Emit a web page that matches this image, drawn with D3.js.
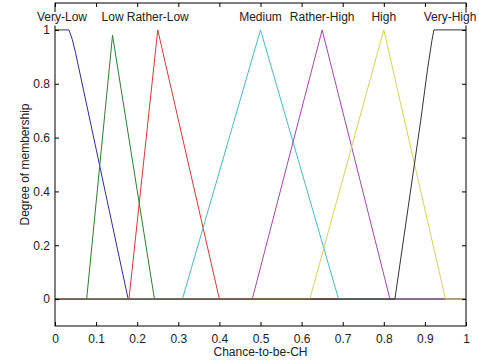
<!DOCTYPE html>
<html>
<head>
<meta charset="utf-8">
<script src="https://cdn.jsdelivr.net/npm/d3@7"></script>
<style>
  html, body { margin: 0; padding: 0; background: #fff; }
  svg { display: block; font-family: "Liberation Sans", Arial, sans-serif; }
</style>
</head>
<body>
<svg id="chart" width="479" height="360"></svg>
<script>
// Membership function names, in drawing order
const mfNames = ["Very-Low", "Low", "Rather-Low", "Medium", "Rather-High", "High", "Very-High"];

// Breakpoints [x, degree] of each membership function over the universe [0, 1]
const veryLow    = [[0, 1], [0.034, 1], [0.042, 0.965], [0.05, 0.915], [0.178, 0], [1, 0]];
const low        = [[0, 0], [0.077, 0], [0.14, 0.98], [0.242, 0], [1, 0]];
const ratherLow  = [[0, 0], [0.18, 0], [0.25, 1], [0.40, 0], [1, 0]];
const medium     = [[0, 0], [0.31, 0], [0.5, 1], [0.69, 0], [1, 0]];
const ratherHigh = [[0, 0], [0.48, 0], [0.65, 1], [0.815, 0], [1, 0]];
const high       = [[0, 0], [0.62, 0], [0.8, 1], [0.95, 0], [1, 0]];
const veryHigh   = [[0, 0], [0.827, 0], [0.89, 0.665], [0.906, 0.85], [0.917, 0.96], [0.922, 1], [1, 1]];

// Where each name sits along the x axis (centre of its maximum)
const labelX = [0.017, 0.14, 0.25, 0.5, 0.65, 0.8, 0.961];

// Tick values
const xTicks = [0, 0.1, 0.2, 0.3, 0.4, 0.5, 0.6, 0.7, 0.8, 0.9, 1];
const yTicks = [0, 0.2, 0.4, 0.6, 0.8, 1];

const curves = [veryLow, low, ratherLow, medium, ratherHigh, high, veryHigh];
const colors = ["#2f2f8f", "#2e7d32", "#d03a3a", "#4fb8c8", "#a04aa8", "#d8d060", "#333333"];

const svg = d3.select("#chart");
const margin = { left: 55, right: 13, top: 3, bottom: 34 };
const W = 479, H = 360;

const x = d3.scaleLinear().domain([0, 1]).range([margin.left, W - margin.right]);
const y = d3.scaleLinear().domain([-0.1, 1.1]).range([H - margin.bottom, margin.top]);

const fontSize = 12;
const textColor = "#222";

// Curves
const line = d3.line().x(d => x(d[0])).y(d => y(d[1]));
svg.append("g")
  .selectAll("path")
  .data(curves)
  .join("path")
  .attr("d", line)
  .attr("fill", "none")
  .attr("stroke", (d, i) => colors[i])
  .attr("stroke-width", 1);

// Axes with inward ticks on all four sides
function styleAxis(g) {
  g.select(".domain").remove();
  g.selectAll(".tick line").attr("stroke", "#000");
  g.selectAll(".tick text").attr("fill", textColor).style("font-size", fontSize + "px");
}

svg.append("g")
  .attr("transform", `translate(0,${y(-0.1)})`)
  .call(d3.axisBottom(x).tickValues(xTicks).tickFormat(d3.format("")).tickSizeInner(-4).tickSizeOuter(0).tickPadding(8))
  .call(styleAxis);

svg.append("g")
  .attr("transform", `translate(0,${y(1.1)})`)
  .call(d3.axisTop(x).tickValues(xTicks).tickFormat("").tickSizeInner(-4).tickSizeOuter(0))
  .call(styleAxis);

svg.append("g")
  .attr("transform", `translate(${x(0)},0)`)
  .call(d3.axisLeft(y).tickValues(yTicks).tickFormat(d3.format("")).tickSizeInner(-4).tickSizeOuter(0).tickPadding(5))
  .call(styleAxis);

svg.append("g")
  .attr("transform", `translate(${x(1)},0)`)
  .call(d3.axisRight(y).tickValues(yTicks).tickFormat("").tickSizeInner(-4).tickSizeOuter(0))
  .call(styleAxis);

// Frame
svg.append("rect")
  .attr("x", x(0)).attr("y", y(1.1))
  .attr("width", x(1) - x(0)).attr("height", y(-0.1) - y(1.1))
  .attr("fill", "none").attr("stroke", "#000").attr("stroke-width", 1);

// Membership function names
svg.append("g")
  .selectAll("text")
  .data(mfNames)
  .join("text")
  .attr("x", (d, i) => x(labelX[i]))
  .attr("y", y(1.033))
  .attr("text-anchor", "middle")
  .attr("fill", textColor)
  .style("font-size", fontSize + "px")
  .style("paint-order", "stroke")
  .style("stroke", "#fff")
  .style("stroke-width", "3px")
  .text(d => d);

// Axis titles
svg.append("text")
  .attr("x", (x(0) + x(1)) / 2)
  .attr("y", 356)
  .attr("text-anchor", "middle")
  .attr("fill", textColor)
  .style("font-size", fontSize + "px")
  .text("Chance-to-be-CH");

svg.append("text")
  .attr("transform", `translate(29,${(y(-0.1) + y(1.1)) / 2}) rotate(-90)`)
  .attr("text-anchor", "middle")
  .attr("fill", textColor)
  .style("font-size", fontSize + "px")
  .text("Degree of membership");
</script>
</body>
</html>
